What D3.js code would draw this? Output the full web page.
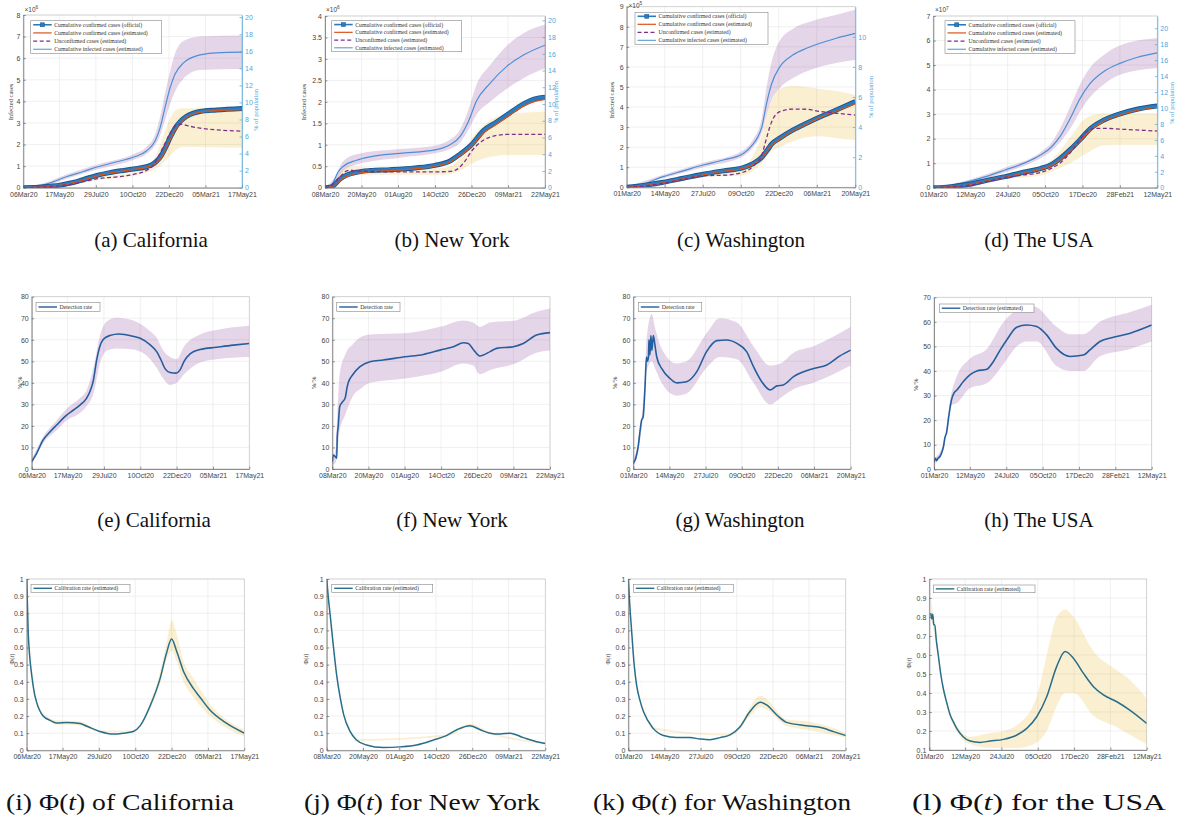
<!DOCTYPE html>
<html>
  <head>
    <title>Infected cases, detection rate and calibration rate</title>
    <meta charset="utf-8">
    <style type="text/css">
      body { margin: 0; background: #fff; }
      svg { display: block; }
      .axis text { font-family: "Liberation Sans", Arial, sans-serif; font-size: 7px; fill: #444; }
      .axis path, .axis line { stroke: #666; stroke-width: 0.7px; }
      .axis.right text { fill: #4fa6da; }
      .axis.right path, .axis.right line { stroke: #4fa6da; }
      .legend text { font-family: "Liberation Serif", serif; font-size: 5.8px; fill: #333; }
      .ylab { font-family: "Liberation Serif", serif; font-size: 6.5px; fill: #444; }
      .caption { font-family: "Liberation Serif", serif; font-size: 21px; fill: #111; }
    </style>
  </head>
  <body>
    <script src="https://cdn.jsdelivr.net/npm/d3@7"></script>
    <script>
    // ---------- tick labels ----------
    var caTicks = ["06Mar20","17May20","29Jul20","10Oct20","22Dec20","05Mar21","17May21"];
    var nyTicks = ["08Mar20","20May20","01Aug20","14Oct20","26Dec20","09Mar21","22May21"];
    var waTicks = ["01Mar20","14May20","27Jul20","09Oct20","22Dec20","06Mar21","20May21"];
    var usTicks = ["01Mar20","12May20","24Jul20","05Oct20","17Dec20","28Feb21","12May21"];

    var casesTicksCA = [0,1,2,3,4,5,6,7,8];
    var casesTicksNY = [0,0.5,1,1.5,2,2.5,3,3.5,4];
    var casesTicksWA = [0,1,2,3,4,5,6,7,8,9];
    var casesTicksUS = [0,1,2,3,4,5,6,7];
    var pctTicks = [0,2,4,6,8,10,12,14,16,18,20];
    var pctTicksWA = [0,2,4,6,8,10];
    var rateTicks = [0,10,20,30,40,50,60,70,80];
    var rateTicksUS = [0,10,20,30,40,50,60,70];
    var phiTicks = [0,0.1,0.2,0.3,0.4,0.5,0.6,0.7,0.8,0.9,1];
    var phiTicksUS = [0.1,0.2,0.3,0.4,0.5,0.6,0.7,0.8,0.9,1];

    // population, in the unit of each left axis (x10^6, x10^6, x10^5, x10^7)
    var populationCA = 39.5, populationNY = 19.5, populationWA = 75, populationUS = 32.5;

    var casesLegend = ["Cumulative confirmed cases (official)", "Cumulative confirmed cases (estimated)",
                       "Unconfirmed cases (estimated)", "Cumulative infected cases (estimated)"];

    // ---------- series: [day since first tick, value] / bands: [day, low, high] ----------
    // California (x10^6)
    var caOfficial = [[0,0],[30,0.02],[53,0.07],[73,0.12],[87,0.18],[107,0.28],[130,0.45],[149,0.58],[173,0.7],[200,0.8],[221,0.87],[246,0.97],[256,1.05],[266,1.22],[276,1.5],[286,1.95],[294,2.35],[303,2.75],[313,3.05],[326,3.3],[340,3.45],[353,3.53],[386,3.6],[437,3.67]];
    var caConfirmedEst = [[0,0],[53,0.06],[87,0.16],[130,0.42],[149,0.56],[200,0.78],[221,0.85],[246,0.95],[266,1.15],[276,1.4],[286,1.85],[294,2.25],[303,2.65],[313,2.95],[326,3.25],[353,3.5],[386,3.57],[437,3.62]];
    var caUnconfirmed = [[0,0],[53,0.05],[87,0.13],[120,0.28],[149,0.42],[187,0.5],[221,0.62],[246,0.8],[260,1.05],[270,1.45],[283,2.05],[294,2.55],[305,2.88],[313,2.95],[330,2.86],[353,2.76],[386,2.68],[437,2.62]];
    var caUnconfirmedBand = [[0,0,0],[53,0.03,0.08],[87,0.1,0.18],[149,0.35,0.5],[221,0.55,0.72],[246,0.7,0.92],[263,0.85,1.4],[280,1.15,2.4],[294,1.5,3.25],[305,1.75,3.6],[320,1.9,3.68],[353,1.88,3.68],[437,1.85,3.65]];
    var caInfected = [[0,0],[30,0.08],[53,0.22],[87,0.52],[120,0.75],[149,0.97],[187,1.2],[221,1.42],[246,1.7],[263,2.15],[273,2.75],[283,3.7],[293,4.6],[303,5.25],[320,5.78],[353,6.15],[386,6.25],[437,6.28]];
    var caInfectedBand = [[0,0,0],[53,0.15,0.3],[87,0.42,0.62],[149,0.85,1.08],[221,1.3,1.56],[246,1.55,1.88],[263,1.95,2.45],[273,2.4,3.25],[283,3.1,4.35],[293,3.85,5.35],[303,4.45,6.2],[320,5.05,6.8],[353,5.45,7.0],[437,5.5,7.05]];

    // New York (x10^6)
    var nyOfficial = [[0,0],[10,0.01],[17,0.05],[30,0.2],[45,0.3],[63,0.36],[90,0.4],[130,0.42],[180,0.46],[220,0.52],[250,0.62],[270,0.78],[293,1.0],[317,1.33],[343,1.53],[367,1.72],[397,1.95],[420,2.07],[440,2.11]];
    var nyConfirmedEst = [[0,0],[17,0.04],[30,0.17],[45,0.27],[63,0.33],[90,0.37],[130,0.4],[180,0.44],[220,0.5],[250,0.6],[270,0.75],[293,0.96],[317,1.28],[343,1.48],[367,1.67],[397,1.9],[420,2.01],[440,2.06]];
    var nyUnconfirmed = [[0,0],[17,0.08],[30,0.25],[40,0.37],[50,0.41],[63,0.39],[90,0.38],[130,0.37],[220,0.37],[250,0.38],[263,0.42],[280,0.62],[293,0.85],[310,1.05],[330,1.18],[363,1.24],[440,1.24]];
    var nyUnconfirmedBand = [[0,0,0],[17,0.05,0.1],[30,0.15,0.35],[50,0.3,0.5],[90,0.3,0.46],[130,0.3,0.44],[220,0.3,0.45],[250,0.32,0.5],[270,0.4,0.7],[293,0.55,1.15],[317,0.68,1.45],[343,0.74,1.65],[363,0.76,1.72],[440,0.76,1.77]];
    var nyInfected = [[0,0],[10,0.02],[17,0.14],[27,0.38],[37,0.5],[63,0.64],[90,0.72],[150,0.8],[220,0.88],[250,1.0],[270,1.19],[287,1.55],[303,2.02],[330,2.43],[363,2.82],[397,3.09],[440,3.32]];
    var nyInfectedBand = [[0,0,0],[17,0.1,0.2],[37,0.4,0.62],[63,0.54,0.78],[150,0.7,0.9],[220,0.8,0.98],[250,0.9,1.12],[270,1.05,1.35],[287,1.35,1.82],[303,1.7,2.4],[330,2.0,2.85],[363,2.3,3.3],[397,2.55,3.6],[440,2.78,3.8]];

    // Washington (x10^5)
    var waOfficial = [[0,0],[20,0.05],[40,0.12],[71,0.25],[110,0.45],[149,0.65],[188,0.82],[227,0.98],[246,1.18],[263,1.5],[275,1.9],[282,2.15],[298,2.45],[324,2.86],[350,3.19],[376,3.5],[408,3.85],[445,4.27]];
    var waConfirmedEst = [[0,0],[40,0.1],[71,0.22],[110,0.42],[149,0.62],[188,0.8],[227,0.95],[246,1.13],[263,1.45],[282,2.1],[298,2.4],[324,2.82],[350,3.15],[376,3.47],[408,3.8],[445,4.15]];
    var waUnconfirmed = [[0,0],[40,0.08],[71,0.2],[110,0.4],[149,0.58],[188,0.6],[227,0.75],[250,1.15],[263,1.6],[269,2.15],[282,3.25],[298,3.77],[324,3.9],[350,3.89],[376,3.78],[408,3.69],[445,3.6]];
    var waUnconfirmedBand = [[0,0,0],[71,0.15,0.28],[149,0.5,0.72],[227,0.6,1.0],[250,0.9,1.8],[263,1.2,2.6],[272,1.5,3.5],[282,1.8,4.3],[298,2.0,4.9],[324,2.3,5.05],[350,2.5,5.0],[376,2.55,4.9],[408,2.45,4.8],[445,2.36,4.6]];
    var waInfected = [[0,0],[30,0.15],[71,0.53],[110,0.82],[149,1.11],[188,1.36],[227,1.69],[246,2.15],[255,2.5],[263,3.0],[272,4.15],[282,5.15],[298,6.0],[324,6.6],[350,6.93],[376,7.18],[408,7.43],[445,7.67]];
    var waInfectedBand = [[0,0,0],[71,0.45,0.62],[149,1.0,1.22],[227,1.55,1.85],[246,1.98,2.38],[263,2.7,3.45],[272,3.55,4.95],[282,4.35,6.25],[298,4.95,7.3],[324,5.45,7.9],[363,5.9,8.3],[408,6.2,8.6],[445,6.35,8.85]];

    // USA (x10^7)
    var usOfficial = [[0,0],[20,0.01],[39,0.05],[70,0.14],[104,0.3],[140,0.45],[176,0.63],[209,0.78],[231,0.95],[247,1.18],[267,1.55],[286,1.95],[306,2.4],[332,2.75],[358,2.97],[397,3.2],[437,3.33]];
    var usConfirmedEst = [[0,0],[39,0.04],[70,0.12],[104,0.28],[140,0.43],[176,0.6],[209,0.75],[231,0.9],[247,1.12],[267,1.48],[286,1.88],[306,2.33],[332,2.7],[358,2.92],[397,3.15],[437,3.28]];
    var usUnconfirmed = [[0,0],[39,0.04],[70,0.1],[104,0.25],[140,0.42],[176,0.52],[209,0.62],[231,0.8],[247,1.0],[267,1.42],[286,1.95],[299,2.28],[315,2.42],[332,2.42],[371,2.38],[437,2.31]];
    var usUnconfirmedBand = [[0,0,0],[70,0.06,0.14],[140,0.35,0.5],[209,0.5,0.78],[241,0.75,1.35],[267,1.0,2.05],[299,1.4,2.85],[332,1.72,3.02],[371,1.74,3.03],[437,1.74,3.03]];
    var usInfected = [[0,0],[20,0.03],[39,0.11],[70,0.26],[104,0.46],[140,0.72],[176,0.99],[209,1.33],[231,1.67],[247,2.08],[267,2.82],[286,3.62],[306,4.25],[332,4.73],[364,5.07],[397,5.31],[437,5.5]];
    var usInfectedBand = [[0,0,0],[70,0.2,0.32],[140,0.62,0.82],[209,1.2,1.45],[231,1.5,1.85],[247,1.85,2.4],[267,2.4,3.3],[286,3.1,4.2],[306,3.7,4.9],[332,4.2,5.4],[364,4.6,5.8],[437,4.88,6.1]];

    // detection rate (%)
    var caDetection = [[0,3.4],[10,7.3],[23,13.5],[37,17.3],[50,20.4],[70,25],[84,27.4],[97,29.7],[110,32.8],[117,36],[124,41.3],[130,50],[137,57],[144,60.2],[157,62],[175,62.7],[204,61.6],[218,60.7],[238,57.6],[251,54.5],[260,50.5],[268,46.5],[278,44.8],[290,44.5],[298,46],[306,50],[318,53.5],[338,55.5],[371,56.5],[405,57.5],[437,58.3]];
    var caDetectionBand = [[0,2,4.5],[23,12,15],[50,18,22.5],[70,22.5,28],[97,26,33],[110,29,36.5],[124,35,47],[137,49,62],[151,55,68.5],[170,56,70.2],[204,55.5,69],[238,51,64],[251,47,61],[264,42,55],[278,39,52],[291,40,51],[306,44,57],[338,49.5,62.5],[371,51,64.5],[437,52,66.5]];
    var nyDetection = [[0,3.4],[2,6.5],[5,6],[7,5.5],[9,5],[10,15],[12,20],[15,29],[20,31],[26,33],[30,38],[32,40],[42,44],[56,47.5],[76,49.8],[103,50.6],[147,52.1],[184,53.2],[218,55.2],[245,56.8],[265,58.6],[275,58.3],[285,55.5],[298,52.5],[319,54.5],[332,56],[366,56.8],[386,58.3],[413,62.2],[440,63.3]];
    var nyDetectionBand = [[0,2,5],[7,3,10],[10,8,25],[15,18,44],[26,25,53],[42,34,58],[56,37,61],[76,40,62.5],[147,42,63],[218,45,66],[265,49,69],[285,48,68],[298,44,66],[319,46,68],[370,49,69],[413,54,73],[440,55,74.5]];
    var waDetection = [[0,2.6],[5,5],[10,10.4],[14,18],[17,22.7],[20,24],[24,38],[27,52],[29,50],[31,52],[32,60],[34,53],[36,62],[38,55],[41,62],[44,58],[48,52],[58,46.7],[75,42.1],[89,40],[109,40.5],[130,45.2],[150,54.5],[171,59.6],[191,59.9],[212,58.3],[232,54.5],[246,47.5],[263,40.5],[280,36.7],[294,38.6],[307,39],[328,42.9],[369,46.7],[396,48.3],[423,52.5],[445,55.2]];
    var waDetectionBand = [[0,1.5,4],[10,8,13],[24,35,45],[27,45,60],[38,50,72],[44,47,66],[58,40,56],[89,34,49],[109,35,50],[150,47,63],[177,52,70],[212,51,68],[246,40,57],[280,30,48],[301,33,49],[328,37,54],[369,40,57],[445,48,66]];
    var usDetection = [[0,3.1],[3,4.5],[5,3.5],[8,4.5],[12,5.2],[16,7],[19,9.2],[22,13],[25,14.7],[30,22],[35,28.2],[40,31],[46,32.3],[59,35.7],[72,38.4],[86,40],[106,40.7],[119,43.8],[133,48.6],[146,52.6],[166,57.8],[186,58.7],[206,58.1],[226,54.7],[246,49.2],[273,45.9],[300,46.5],[313,48.6],[333,52],[360,53.7],[394,55.4],[437,58.7]];
    var usDetectionBand = [[0,2,4.5],[19,8,10.5],[35,26,31],[46,27,38],[72,33,45],[106,35,49],[140,43,60],[166,50,65],[186,52,67],[206,52,66],[246,42,58],[273,40,55],[300,40,55],[333,46,60],[394,49,64],[437,52,67]];

    // calibration rate Phi(t)
    var caPhi = [[0,1.0],[3,0.69],[6,0.55],[10,0.44],[15,0.34],[20,0.28],[33,0.2],[47,0.175],[60,0.16],[80,0.162],[107,0.156],[121,0.14],[147,0.11],[174,0.095],[194,0.1],[214,0.11],[228,0.144],[248,0.26],[268,0.42],[281,0.57],[291,0.65],[301,0.58],[315,0.46],[335,0.36],[348,0.31],[368,0.235],[401,0.158],[437,0.1]];
    var caPhiBand = [[0,1,1],[20,0.27,0.29],[47,0.165,0.185],[60,0.15,0.175],[107,0.145,0.17],[147,0.105,0.115],[214,0.105,0.115],[248,0.24,0.28],[268,0.39,0.46],[281,0.53,0.63],[291,0.58,0.76],[301,0.52,0.68],[315,0.4,0.52],[335,0.31,0.42],[368,0.2,0.27],[401,0.13,0.18],[437,0.08,0.12]];
    var nyPhi = [[0,1.0],[3,0.9],[7,0.79],[13,0.62],[20,0.44],[27,0.31],[34,0.21],[47,0.11],[60,0.06],[80,0.031],[114,0.016],[148,0.02],[181,0.031],[215,0.06],[241,0.086],[262,0.12],[288,0.144],[309,0.12],[329,0.1],[349,0.095],[369,0.1],[396,0.074],[423,0.05],[440,0.04]];
    var nyPhiBand = [[0,1,1],[60,0.055,0.065],[241,0.08,0.092],[288,0.135,0.155],[329,0.093,0.107],[440,0.035,0.045]];
    var waPhi = [[0,1.0],[3,0.85],[7,0.69],[12,0.5],[17,0.38],[24,0.29],[31,0.226],[51,0.128],[72,0.086],[99,0.074],[126,0.074],[147,0.066],[167,0.062],[188,0.074],[208,0.09],[229,0.138],[249,0.226],[270,0.28],[283,0.265],[304,0.206],[324,0.163],[365,0.144],[392,0.134],[420,0.109],[445,0.086]];
    var waPhiBand = [[0,1,1],[51,0.12,0.135],[208,0.085,0.095],[229,0.125,0.15],[249,0.2,0.25],[270,0.25,0.32],[283,0.24,0.3],[324,0.14,0.18],[365,0.12,0.17],[420,0.09,0.13],[445,0.075,0.1]];
    var usPhi = [[3,0.82],[5,0.79],[7,0.814],[9,0.76],[11,0.758],[14,0.68],[18,0.6],[23,0.5],[28,0.425],[35,0.35],[42,0.284],[48,0.25],[55,0.214],[68,0.17],[82,0.147],[102,0.14],[122,0.147],[149,0.156],[176,0.179],[196,0.214],[216,0.275],[236,0.38],[256,0.539],[273,0.618],[290,0.582],[310,0.503],[330,0.433],[350,0.39],[377,0.354],[403,0.31],[437,0.24]];
    var usPhiBand = [[3,0.8,0.9],[14,0.66,0.7],[28,0.41,0.44],[55,0.2,0.23],[82,0.13,0.17],[122,0.11,0.19],[149,0.11,0.2],[176,0.11,0.23],[216,0.14,0.38],[236,0.2,0.6],[256,0.33,0.8],[273,0.4,0.84],[290,0.4,0.8],[330,0.28,0.62],[377,0.22,0.52],[403,0.18,0.47],[437,0.13,0.37]];

    // ---------- drawing ----------
    var parseDate = d3.timeParse("%d%b%y");
    var fmtDate = d3.timeFormat("%d%b%y");
    var fmtNum = d3.format("~g");

    var svg = d3.select("body").append("svg")
        .attr("width", 1179)
        .attr("height", 818);
    svg.append("rect").attr("width", 1179).attr("height", 818).attr("fill", "#fff");

    var clipCount = 0;

    function frame(p) {
      var t0 = parseDate(p.ticks[0]);
      var x = d3.scaleTime()
          .domain([t0, parseDate(p.ticks[p.ticks.length - 1])])
          .range([p.box[0], p.box[1]]);
      var y = d3.scaleLinear()
          .domain([p.yTicks[0], p.yMax])
          .range([p.box[3], p.box[2]]);
      var g = svg.append("g");
      var id = "clip" + (clipCount++);
      svg.append("clipPath").attr("id", id).append("rect")
          .attr("x", p.box[0]).attr("y", p.box[2])
          .attr("width", p.box[1] - p.box[0]).attr("height", p.box[3] - p.box[2]);

      // grid
      g.selectAll("line.gx").data(p.ticks.map(parseDate)).enter().append("line")
          .attr("x1", x).attr("x2", x)
          .attr("y1", p.box[2]).attr("y2", p.box[3])
          .attr("stroke", "#e9e9e9").attr("stroke-width", 0.7);
      g.selectAll("line.gy").data(p.yTicks).enter().append("line")
          .attr("x1", p.box[0]).attr("x2", p.box[1])
          .attr("y1", y).attr("y2", y)
          .attr("stroke", "#e9e9e9").attr("stroke-width", 0.7);
      g.append("rect")
          .attr("x", p.box[0]).attr("y", p.box[2])
          .attr("width", p.box[1] - p.box[0]).attr("height", p.box[3] - p.box[2])
          .attr("fill", "none").attr("stroke", "#c8c8c8").attr("stroke-width", 0.7);

      var plot = g.append("g").attr("clip-path", "url(#" + id + ")");
      var px = function(d) { return x(d3.timeDay.offset(t0, d[0])); };
      return {g: g, plot: plot, x: x, y: y, px: px};
    }

    function band(f, data, color, opacity) {
      f.plot.append("path").datum(data)
          .attr("d", d3.area().x(f.px)
              .y0(function(d) { return f.y(d[1]); })
              .y1(function(d) { return f.y(d[2]); })
              .curve(d3.curveMonotoneX))
          .attr("fill", color).attr("fill-opacity", opacity);
    }

    function line(f, data, color, width, dash) {
      return f.plot.append("path").datum(data)
          .attr("d", d3.line().x(f.px).y(function(d) { return f.y(d[1]); }).curve(d3.curveMonotoneX))
          .attr("fill", "none").attr("stroke", color).attr("stroke-width", width)
          .attr("stroke-dasharray", dash || null)
          .attr("stroke-linejoin", "round");
    }

    function axes(f, p) {
      f.g.append("g").attr("class", "axis")
          .attr("transform", "translate(0," + p.box[3] + ")")
          .call(d3.axisBottom(f.x).tickValues(p.ticks.map(parseDate)).tickFormat(fmtDate)
              .tickSizeInner(-2.5).tickSizeOuter(0).tickPadding(4));
      f.g.append("g").attr("class", "axis")
          .attr("transform", "translate(" + p.box[0] + ",0)")
          .call(d3.axisLeft(f.y).tickValues(p.yTicks).tickFormat(fmtNum)
              .tickSizeInner(-2.5).tickSizeOuter(0).tickPadding(3));
    }

    function ylabel(text, x, y, cls, color) {
      svg.append("text").attr("class", "ylab")
          .attr("transform", "translate(" + x + "," + y + ") rotate(-90)")
          .attr("text-anchor", "middle")
          .style("fill", color || null)
          .text(text);
    }

    function legendBox(b, labels, sampler) {
      var lg = svg.append("g").attr("class", "legend");
      lg.append("rect").attr("x", b[0]).attr("y", b[1]).attr("width", b[2]).attr("height", b[3])
          .attr("fill", "#fff").attr("stroke", "#888").attr("stroke-width", 0.6);
      var rowH = b[3] / labels.length;
      labels.forEach(function(label, i) {
        var cy = b[1] + rowH * (i + 0.5);
        sampler(lg, i, b[0] + 2.5, b[0] + 21, cy);
        lg.append("text").attr("x", b[0] + 23.5).attr("y", cy + 2).text(label);
      });
    }

    function caption(parts, x, y, size, width) {
      var t = svg.append("text").attr("class", "caption")
          .attr("x", x).attr("y", y).attr("text-anchor", "middle")
          .style("font-size", size + "px");
      if (width) t.attr("textLength", width).attr("lengthAdjust", "spacingAndGlyphs");
      parts.forEach(function(s) {
        var ts = t.append("tspan").text(s.replace(/^_/, ""));
        if (s.charAt(0) === "_") ts.style("font-style", "italic");
      });
    }

    var COL = {
      official: "#2a7cc0", officialEdge: "#175690", est: "#D95319", unconf: "#7E2F8E",
      infected: "#4d8fd6", yellow: "#EDB120", purple: "#7E2F8E",
      detect: "#245e9e", calib: "#276e8a", right: "#4fa6da"
    };

    // ---------- row 1: infected cases ----------
    var casesPanels = [
      {ticks: caTicks, yTicks: casesTicksCA, yMax: 8, pop: populationCA, rTicks: pctTicks, exp: "6",
       official: caOfficial, est: caConfirmedEst, unconf: caUnconfirmed, unconfBand: caUnconfirmedBand,
       infected: caInfected, infectedBand: caInfectedBand,
       box: [23.3, 242, 15, 187.7], legend: [30.7, 20.7, 131, 32.6], mult: [24.5, 11.5],
       ylab: [13, 102], rlab: [258.3, 110], cap: [["(a) California"], 151, 247]},
      {ticks: nyTicks, yTicks: casesTicksNY, yMax: 4, pop: populationNY, rTicks: pctTicks, exp: "6",
       official: nyOfficial, est: nyConfirmedEst, unconf: nyUnconfirmed, unconfBand: nyUnconfirmedBand,
       infected: nyInfected, infectedBand: nyInfectedBand,
       box: [325, 545, 16, 187.7], legend: [331.7, 20.7, 130, 31], mult: [326, 11.5],
       ylab: [306, 102], rlab: [558.3, 102], cap: [["(b) New York"], 452, 247]},
      {ticks: waTicks, yTicks: casesTicksWA, yMax: 9, pop: populationWA, rTicks: pctTicksWA, exp: "5",
       official: waOfficial, est: waConfirmedEst, unconf: waUnconfirmed, unconfBand: waUnconfirmedBand,
       infected: waInfected, infectedBand: waInfectedBand,
       box: [626.7, 855.3, 6.7, 187.3], legend: [635, 12.3, 133, 32], mult: [628.5, 7.5],
       ylab: [614.3, 100], rlab: [873.3, 97], cap: [["(c) Washington"], 741, 247]},
      {ticks: usTicks, yTicks: casesTicksUS, yMax: 7, pop: populationUS, rTicks: pctTicks, exp: "7",
       official: usOfficial, est: usConfirmedEst, unconf: usUnconfirmed, unconfBand: usUnconfirmedBand,
       infected: usInfected, infectedBand: usInfectedBand,
       box: [933.3, 1157.3, 16, 187.7], legend: [945, 20.7, 130, 32.6], mult: [935, 12],
       ylab: null, rlab: [1174, 103], cap: [["(d) The USA"], 1039, 247]}
    ];

    casesPanels.forEach(function(p) {
      var f = frame(p);
      band(f, p.unconfBand, COL.yellow, 0.2);
      band(f, p.infectedBand, COL.purple, 0.2);
      line(f, p.infected, COL.infected, 1.2);
      line(f, p.official, COL.officialEdge, 5);
      line(f, p.official, COL.official, 3.2);
      line(f, p.est, COL.est, 1.2);
      line(f, p.unconf, COL.unconf, 1.3, "4,2.5");
      axes(f, p);

      // right axis: % of population
      var yR = d3.scaleLinear().domain([0, p.yMax / p.pop * 100]).range([p.box[3], p.box[2]]);
      f.g.append("g").attr("class", "axis right")
          .attr("transform", "translate(" + p.box[1] + ",0)")
          .call(d3.axisRight(yR).tickValues(p.rTicks).tickFormat(fmtNum)
              .tickSizeInner(-2.5).tickSizeOuter(0).tickPadding(3));

      var m = svg.append("text").attr("class", "axis")
          .attr("x", p.mult[0]).attr("y", p.mult[1])
          .style("font-family", "Liberation Sans, Arial, sans-serif").style("font-size", "6.5px").style("fill", "#444");
      m.append("tspan").text("\u00d710");
      m.append("tspan").attr("dy", -2.5).style("font-size", "4.8px").text(p.exp);

      if (p.ylab) ylabel("Infected cases", p.ylab[0], p.ylab[1]);
      ylabel("% of population", p.rlab[0], p.rlab[1], null, COL.right);

      legendBox(p.legend, casesLegend, function(lg, i, x1, x2, cy) {
        var s = lg.append("line").attr("x1", x1).attr("x2", x2).attr("y1", cy).attr("y2", cy);
        if (i === 0) {
          s.attr("stroke", COL.official).attr("stroke-width", 1.6);
          lg.append("rect").attr("x", (x1 + x2) / 2 - 2).attr("y", cy - 2).attr("width", 4).attr("height", 4)
              .attr("fill", COL.official).attr("stroke", COL.officialEdge).attr("stroke-width", 0.5);
        } else if (i === 1) {
          s.attr("stroke", COL.est).attr("stroke-width", 1.2);
        } else if (i === 2) {
          s.attr("stroke", COL.unconf).attr("stroke-width", 1.2).attr("stroke-dasharray", "4,2.5");
        } else {
          s.attr("stroke", COL.infected).attr("stroke-width", 1);
        }
      });
      caption(p.cap[0], p.cap[1], p.cap[2], 21);
    });

    // ---------- row 2: detection rate ----------
    var detectionPanels = [
      {ticks: caTicks, yTicks: rateTicks, yMax: 80, data: caDetection, bandData: caDetectionBand,
       label: "Detection rate", box: [31.7, 249.3, 296.7, 469], legend: [36, 302.3, 64, 9.4],
       ylab: [21.5, 383], cap: [["(e) California"], 154, 527]},
      {ticks: nyTicks, yTicks: rateTicks, yMax: 80, data: nyDetection, bandData: nyDetectionBand,
       label: "Detection rate", box: [332.3, 550, 296.7, 469], legend: [336.7, 302.3, 63.3, 9.4],
       ylab: [316, 383], cap: [["(f) New York"], 452, 527]},
      {ticks: waTicks, yTicks: rateTicks, yMax: 80, data: waDetection, bandData: waDetectionBand,
       label: "Detection rate", box: [633.3, 850.7, 296.7, 469], legend: [638.3, 302.3, 63.4, 9.4],
       ylab: [617, 383], cap: [["(g) Washington"], 740, 527]},
      {ticks: usTicks, yTicks: rateTicksUS, yMax: 70, data: usDetection, bandData: usDetectionBand,
       label: "Detection rate (estimated)", box: [934, 1151.7, 297.3, 469.3], legend: [939.3, 304, 94.7, 8.4],
       ylab: [918, 385], cap: [["(h) The USA"], 1039, 527]}
    ];

    detectionPanels.forEach(function(p) {
      var f = frame(p);
      band(f, p.bandData, COL.purple, 0.2);
      line(f, p.data, COL.detect, 1.6);
      axes(f, p);
      ylabel("%/%", p.ylab[0], p.ylab[1]);
      legendBox(p.legend, [p.label], function(lg, i, x1, x2, cy) {
        lg.append("line").attr("x1", x1).attr("x2", x2).attr("y1", cy).attr("y2", cy)
            .attr("stroke", COL.detect).attr("stroke-width", 1.4);
      });
      caption(p.cap[0], p.cap[1], p.cap[2], 21);
    });

    // ---------- row 3: calibration rate ----------
    var phiPanels = [
      {ticks: caTicks, yTicks: phiTicks, yMax: 1, data: caPhi, bandData: caPhiBand,
       box: [26.7, 244.3, 579, 750.3], legend: [31, 584.3, 99, 8],
       ylab: [14, 659], cap: [["(i) \u03a6(", "_t", ") of California"], 120, 810, 228]},
      {ticks: nyTicks, yTicks: phiTicks, yMax: 1, data: nyPhi, bandData: nyPhiBand,
       box: [326.7, 545.3, 579, 750.3], legend: [331.7, 584.3, 101, 8],
       ylab: [308, 659], cap: [["(j) \u03a6(", "_t", ") for New York"], 422, 810, 236]},
      {ticks: waTicks, yTicks: phiTicks, yMax: 1, data: waPhi, bandData: waPhiBand,
       box: [628.3, 845.7, 579, 750.3], legend: [633.3, 584.3, 100, 8],
       ylab: [610, 659], cap: [["(k) \u03a6(", "_t", ") for Washington"], 722, 810, 258]},
      {ticks: usTicks, yTicks: phiTicksUS, yMax: 1, data: usPhi, bandData: usPhiBand,
       box: [929.3, 1146.7, 579, 750], legend: [933.3, 585, 101.7, 7.7],
       ylab: [911, 663], cap: [["(l) \u03a6(", "_t", ") for the USA"], 1039, 810, 254]}
    ];

    phiPanels.forEach(function(p) {
      var f = frame(p);
      band(f, p.bandData, COL.yellow, 0.2);
      line(f, p.data, COL.calib, 1.5);
      axes(f, p);
      var lab = svg.append("text").attr("class", "ylab")
          .attr("transform", "translate(" + p.ylab[0] + "," + p.ylab[1] + ") rotate(-90)")
          .attr("text-anchor", "middle");
      lab.append("tspan").text("\u03a6(");
      lab.append("tspan").style("font-style", "italic").text("t");
      lab.append("tspan").text(")");
      legendBox(p.legend, ["Calibration rate (estimated)"], function(lg, i, x1, x2, cy) {
        lg.append("line").attr("x1", x1).attr("x2", x2).attr("y1", cy).attr("y2", cy)
            .attr("stroke", COL.calib).attr("stroke-width", 1.4);
      });
      caption(p.cap[0], p.cap[1], p.cap[2], 23, p.cap[3]);
    });
    </script>
  </body>
</html>
